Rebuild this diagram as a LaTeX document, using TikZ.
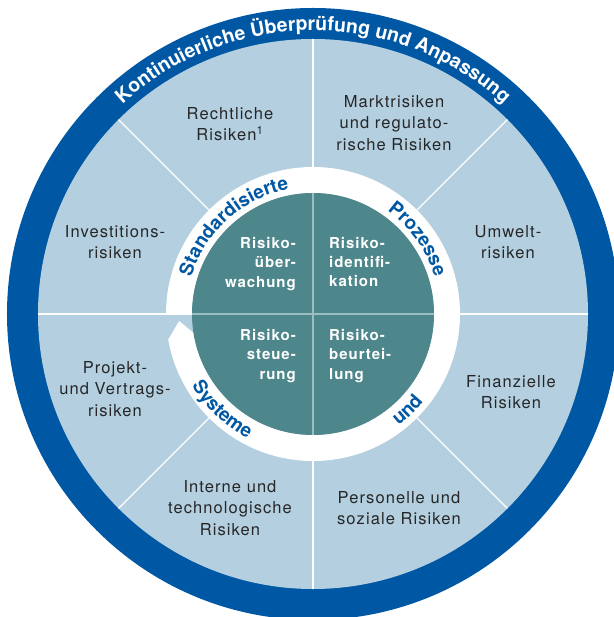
\documentclass[tikz,border=0pt]{standalone}
\usepackage{fontspec}
\setmainfont{TeX Gyre Heros}
\usetikzlibrary{decorations.text}
\definecolor{rmblue}{HTML}{0057A3}
\definecolor{rmsky}{HTML}{B4D0E0}
\definecolor{rmteal}{HTML}{4D868B}
\definecolor{rmline}{HTML}{9CBEC1}
\definecolor{rmtext}{HTML}{262626}
\tikzset{
  seg/.style={align=center,text=rmtext,inner sep=0pt,font=\fontsize{16.5}{21.7}\selectfont\addfontfeatures{LetterSpace=6.5}},
  quadl/.style={align=right,anchor=east,text=white,inner sep=0pt,font=\fontsize{15}{19.4}\selectfont\bfseries\addfontfeatures{LetterSpace=6.5}},
  quadr/.style={quadl,align=left,anchor=west},
  divider/.style={draw=white,line width=1.3pt},
  cross/.style={draw=rmline,line width=1.3pt},
  ringlabel/.style={decorate,decoration={text along path,text align=center,text={|\fontsize{19}{19}\selectfont\bfseries\color{rmblue}|#1}}},
  outerlabel/.style={decorate,decoration={text along path,text align=center,text={|\fontsize{19.5}{19.5}\selectfont\bfseries\color{white}|#1}}},
}
\begin{document}
\begin{tikzpicture}[x=1pt,y=1pt]
  \useasboundingbox (-313,-303) rectangle (300,314);
  \fill[rmblue] (0,0) circle[radius=306pt];
  \fill[rmsky] (0,0) circle[radius=275pt];
  % white ring, open just below the left end
  \fill[white] (180:147pt) arc[start angle=180,end angle=-170,radius=147pt] -- (-177:134pt) -- (-171:121pt) arc[start angle=-171,end angle=180,radius=121pt] -- cycle;
  \foreach \a in {0,45,...,315}{
    \draw[divider] (\a:147pt) -- (\a:275pt);}
  \draw[divider] (180:121pt) -- (180:147pt);
  \fill[rmteal] (0,0) circle[radius=121pt];
  \foreach \a in {0,90,180,270}{
    \draw[cross] (0,0) -- (\a:121pt);}
  \path[outerlabel={Kontinuierliche Überprüfung und Anpassung}] (180:283.5pt) arc[start angle=180,end angle=0,radius=283.5pt];
  \path[ringlabel={Standardisierte}] (172:127.2pt) arc[start angle=172,end angle=92,radius=127.2pt];
  \path[ringlabel={Prozesse}] (75:127.2pt) arc[start angle=75,end angle=-4,radius=127.2pt];
  \path[ringlabel={und}] (-85:140.8pt) arc[start angle=-85,end angle=-6,radius=140.8pt];
  \path[ringlabel={Systeme}] (186:140.8pt) arc[start angle=186,end angle=267,radius=140.8pt];
  \foreach \n/\p/\t in {recht/{-83,190}/{Rechtliche\\Risiken\textsuperscript{1}},
      markt/{81,191}/{Marktrisiken\\und regulato-\\rische Risiken},
      umwelt/{195,72}/{Umwelt-\\risiken},
      finanz/{198,-78}/{Finanzielle\\Risiken},
      person/{86,-194}/{Personelle und\\soziale Risiken},
      intern/{-83,-194}/{Interne und\\technologische\\Risiken},
      projekt/{-198,-75}/{Projekt-\\und Vertrags-\\risiken},
      invest/{-198,72}/{Investitions-\\risiken}}{
    \node[seg] (\n) at (\p) {\t};}
  \node[quadl] (ueberw) at (-17,50) {Risiko-\\über-\\wachung};
  \node[quadr] (ident) at (16,52) {Risiko-\\identifi-\\kation};
  \node[quadl] (steuer) at (-17,-42) {Risiko-\\steue-\\rung};
  \node[quadr] (beurt) at (16,-42) {Risiko-\\beurtei-\\lung};
\end{tikzpicture}
\end{document}
